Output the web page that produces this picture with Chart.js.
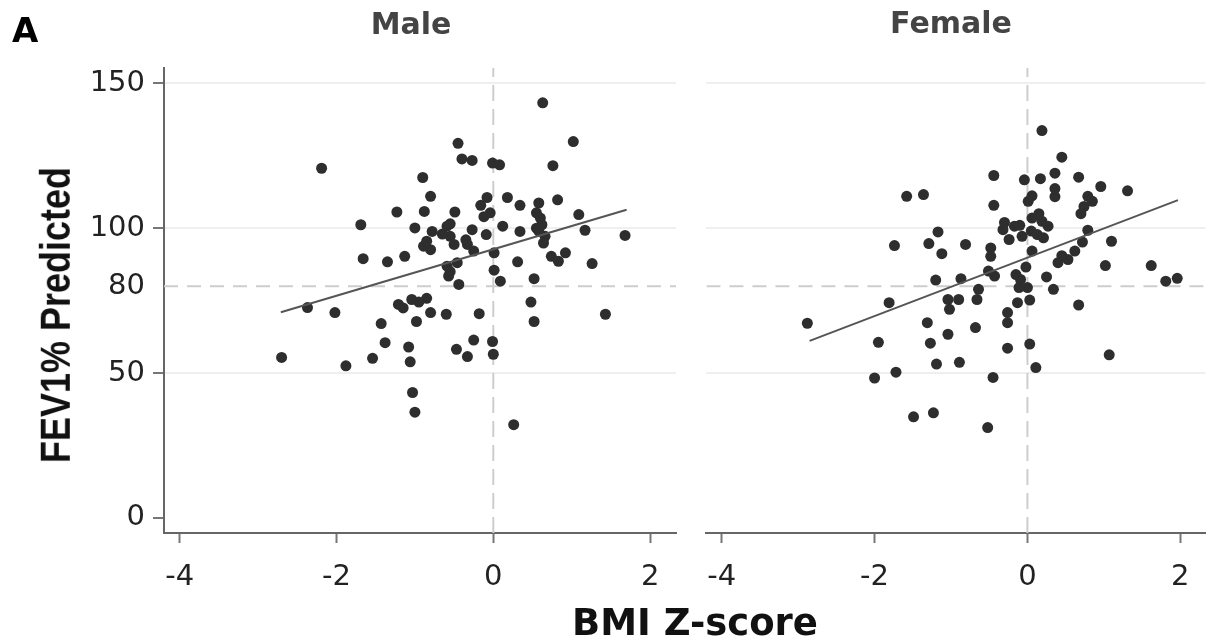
<!DOCTYPE html>
<html>
<head>
<meta charset="utf-8">
<script src="https://cdn.jsdelivr.net/npm/chart.js@4/dist/chart.umd.min.js"></script>
<style>
  body { margin: 0; background: #fff; }
  #wrap { position: relative; width: 1211px; height: 641px; overflow: hidden; font-family: "DejaVu Sans", sans-serif; }
  canvas { position: absolute; top: 0; }
  .lbl { position: absolute; line-height: 1; white-space: nowrap; font-weight: bold; }
</style>
</head>
<body>
<div id="wrap">
  <canvas id="maleChart" width="690" height="641" style="left:0"></canvas>
  <canvas id="femaleChart" width="521" height="641" style="left:690px"></canvas>
  <div class="lbl" style="left:12px; top:13px; font-size:34px; color:#000">A</div>
  <div class="lbl" style="left:411px; top:9px; font-size:30px; color:#444; transform:translateX(-50%)">Male</div>
  <div class="lbl" style="left:951px; top:8px; font-size:30px; color:#444; transform:translateX(-50%)">Female</div>
  <div class="lbl" style="left:695px; top:604px; font-size:37px; color:#111; transform:translateX(-50%)">BMI Z-score</div>
  <div class="lbl" style="left:55px; top:315px; font-size:36px; color:#111; font-family:'Liberation Sans', Arial, sans-serif; transform:translate(-50%,-50%) rotate(-90deg) scaleY(1.2)">FEV1% Predicted</div>
</div>
<script>
"use strict";

// axis setup
var xTicks = [-4, -2, 0, 2];
var yTicks = [0, 50, 80, 100, 150];
var xMin = -4.2, xMax = 2.33;
var yMin = -5.2, yMax = 155.3;
var refY = 80; // dashed horizontal line
var refX = 0;  // dashed vertical line

// Male panel
var maleX = [0.63, -0.45, 1.02, -0.40, -0.27, -0.01, 0.08, 0.76, -2.19, -0.90,
  -0.80, -0.08, 0.18, 0.34, 0.82, 0.58, -0.16, -1.23, -0.88, -0.49,
  -0.04, 0.55, 1.09, -1.69, -1.00, -0.59, 0.12, 0.62, -0.78, -0.27,
  -0.09, 0.34, 1.17, 1.68, -0.55, 0.66, -0.89, -0.80, -0.50, -0.33,
  0.64, -0.25, 0.01, -1.66, -1.35, -1.13, 0.31, 0.74, 0.92, 0.83,
  1.26, -0.59, -0.46, 0.01, -0.57, -0.44, 0.09, 0.52, -2.37, -2.02,
  -1.21, -1.04, -0.85, 0.48, -1.43, -0.98, -0.80, -0.60, -0.18, 0.52,
  1.43, -2.70, -1.88, -1.54, -1.38, -1.08, -1.06, -1.03, -1.00, -0.47,
  -0.33, -0.25, -0.01, 0.00, 0.26, -0.85, -0.65, -0.55, 0.55, 0.60,
  -0.12, -0.35, 0.58, -1.15, -0.95, -0.55];
var maleY = [143.3, 129.3, 129.9, 123.9, 123.4, 122.5, 121.9, 121.6, 120.7, 117.5,
  111.0, 110.6, 110.6, 107.9, 109.8, 108.7, 107.9, 105.6, 105.8, 105.6,
  105.3, 105.3, 104.7, 101.2, 100.1, 100.7, 100.7, 101.2, 98.9, 99.5,
  97.8, 98.9, 99.3, 97.5, 97.2, 97.2, 93.8, 92.6, 94.4, 94.4,
  94.9, 92.1, 91.5, 89.5, 88.4, 90.3, 88.4, 90.3, 91.5, 88.6,
  87.8, 86.9, 88.1, 85.5, 83.5, 80.6, 81.7, 82.6, 72.6, 70.9,
  73.7, 75.4, 75.8, 74.5, 67.1, 67.8, 70.9, 70.3, 70.5, 67.8,
  70.3, 55.4, 52.5, 55.1, 60.5, 59.0, 53.9, 43.3, 36.5, 58.2,
  55.7, 61.4, 60.9, 56.5, 32.2, 95.5, 98.0, 101.5, 100.0, 103.5,
  104.0, 96.0, 99.0, 72.5, 74.5, 85.0];
var maleFitX = [-2.71, 1.70];
var maleFitY = [71.0, 106.4];

// Female panel
var femaleX = [0.19, 0.45, -0.44, -0.04, 0.17, 0.36, 0.67, 0.96, 1.31, -1.58,
  -1.36, 0.36, 0.36, 0.06, 0.01, -0.44, 0.79, 0.74, 0.70, 0.85,
  -1.17, -1.74, -1.29, -1.12, -0.81, -0.48, -0.48, -0.32, -0.17, 0.06,
  0.19, 0.27, -0.24, -0.07, 0.13, 0.21, 0.06, 0.79, 0.72, 1.10,
  0.62, 0.53, 0.40, 1.02, 1.62, -0.02, -0.51, -0.43, -0.87, -1.20,
  0.25, -0.09, -0.11, 0.00, 0.34, 1.81, 1.96, -0.64, -1.81, -1.04,
  -0.90, -0.66, -1.02, -0.13, 0.03, 0.67, -0.26, -0.26, -2.88, -1.31,
  -0.68, -1.04, -1.95, -1.27, -0.26, 0.03, -1.19, -0.89, -2.00, -1.72,
  -0.45, 0.11, 1.07, -1.49, -1.23, -0.52, -0.10, 0.05, -0.30, 0.15,
  0.45, -0.15];
var femaleY = [133.7, 124.5, 118.2, 116.7, 117.1, 119.0, 117.6, 114.4, 112.9, 111.0,
  111.6, 113.7, 110.9, 111.2, 109.3, 107.9, 111.0, 107.5, 105.0, 109.3,
  98.7, 94.0, 94.7, 91.2, 94.4, 93.2, 90.3, 99.5, 100.7, 103.5,
  102.4, 100.7, 96.1, 97.2, 97.8, 96.7, 92.1, 99.3, 95.2, 95.5,
  92.1, 89.2, 88.1, 87.1, 87.1, 86.6, 85.2, 83.5, 82.6, 82.1,
  83.2, 82.3, 79.5, 79.5, 78.9, 81.7, 82.7, 78.9, 74.3, 75.4,
  75.4, 75.4, 72.0, 74.3, 75.2, 73.5, 70.9, 67.4, 67.2, 67.4,
  65.7, 63.4, 60.6, 60.3, 58.6, 60.0, 53.1, 53.7, 48.3, 50.3,
  48.5, 51.9, 56.3, 34.9, 36.3, 31.2, 101.0, 99.0, 102.0, 105.0,
  90.5, 84.0];
var femaleFitX = [-2.85, 1.97];
var femaleFitY = [61.1, 109.7];

function toPoints(xs, ys) {
  return xs.map(function (x, i) {
    return { x: x, y: ys[i] };
  });
}

function makePanel(id, xs, ys, fitX, fitY, leftWidth, rightPad, showY) {
  var ctx = document.getElementById(id).getContext("2d");
  return new Chart(ctx, {
    type: "scatter",
    data: {
      datasets: [
        {
          data: toPoints(xs, ys),
          backgroundColor: "#2e2e2e",
          borderColor: "#2e2e2e",
          pointRadius: 5.5,
          pointBorderWidth: 0,
          order: 2,
        },
        {
          data: toPoints(fitX, fitY),
          showLine: true,
          borderColor: "#555",
          borderWidth: 2,
          pointRadius: 0,
          order: 1,
        },
        {
          data: [{ x: xMin, y: refY }, { x: xMax, y: refY }],
          showLine: true,
          borderColor: "#cdcdcd",
          borderWidth: 2,
          borderDash: [14, 9],
          pointRadius: 0,
          order: 3,
        },
        {
          data: [{ x: refX, y: yMin }, { x: refX, y: yMax }],
          showLine: true,
          borderColor: "#cdcdcd",
          borderWidth: 2,
          borderDash: [16, 8],
          pointRadius: 0,
          order: 3,
        },
      ],
    },
    options: {
      responsive: false,
      animation: false,
      events: [],
      layout: { padding: { top: 68, bottom: 0, left: 0, right: rightPad } },
      plugins: { legend: { display: false }, tooltip: { enabled: false } },
      scales: {
        x: {
          type: "linear",
          min: xMin,
          max: xMax,
          afterBuildTicks: function (scale) {
            scale.ticks = xTicks.map(function (v) { return { value: v }; });
          },
          afterFit: function (scale) {
            scale.height = 108;
          },
          grid: {
            drawOnChartArea: false,
            color: "#777",
            tickColor: "#777",
            tickLength: 10,
            tickWidth: 2,
          },
          border: { display: true, color: "#666", width: 2 },
          ticks: {
            padding: 17,
            color: "#222",
            font: { family: "DejaVu Sans", size: 29 },
            maxRotation: 0,
          },
        },
        y: {
          type: "linear",
          min: yMin,
          max: yMax,
          afterBuildTicks: function (scale) {
            scale.ticks = yTicks.map(function (v) { return { value: v }; });
          },
          afterFit: function (scale) {
            scale.width = leftWidth;
          },
          grid: {
            drawTicks: showY,
            tickLength: 11,
            tickWidth: 2,
            lineWidth: 2,
            color: function (c) {
              var v = c.tick && c.tick.value;
              return v === 50 || v === 100 || v === 150 ? "#efefef" : "rgba(0,0,0,0)";
            },
            tickColor: function (c) {
              var v = c.tick && c.tick.value;
              return v === 80 ? "rgba(0,0,0,0)" : "#777";
            },
          },
          border: { display: showY, color: "#666", width: 2 },
          ticks: {
            display: showY,
            padding: 8,
            color: "#222",
            font: { family: "DejaVu Sans", size: 29 },
          },
        },
      },
    },
  });
}

var maleChart = makePanel("maleChart", maleX, maleY, maleFitX, maleFitY, 164, 14, true);
var femaleChart = makePanel("femaleChart", femaleX, femaleY, femaleFitX, femaleFitY, 9, 0, false);
</script>
</body>
</html>
